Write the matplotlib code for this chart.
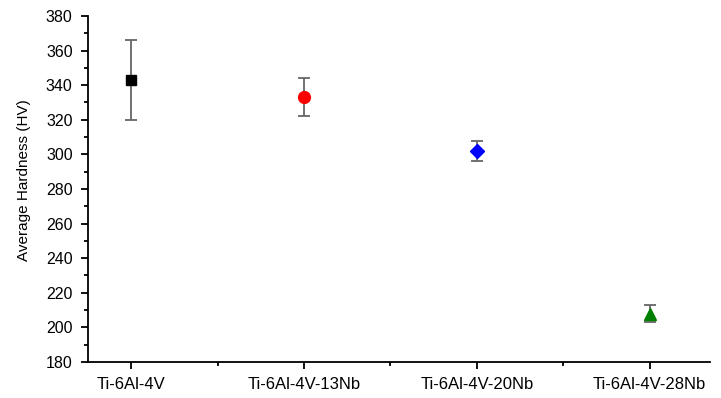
import matplotlib.pyplot as plt
from matplotlib.ticker import MultipleLocator, FixedLocator

plt.rcParams['font.family'] = ['Liberation Sans', 'DejaVu Sans']

alloys = ['Ti-6Al-4V', 'Ti-6Al-4V-13Nb', 'Ti-6Al-4V-20Nb', 'Ti-6Al-4V-28Nb']
hardness = [343, 333, 302, 208]
err_low = [23, 11, 6, 5]
err_high = [23, 11, 6, 5]
markers = ['s', 'o', 'D', '^']
colors = ['black', 'red', 'blue', 'green']
msizes = [7.5, 8.5, 7.5, 8.5]

fig = plt.figure(figsize=(7.21, 3.98), dpi=100)
ax = fig.add_axes([0.122, 0.0905, 0.863, 0.8695])

for i in range(len(alloys)):
    line, caps, bars = ax.errorbar(i, hardness[i], yerr=[[err_low[i]], [err_high[i]]],
                                   fmt=markers[i], color=colors[i], ms=msizes[i],
                                   ecolor='#666666', elinewidth=1.3, capsize=4,
                                   capthick=1.3, zorder=3)
    for c in caps:
        c.set_color('#222222')

ax.set_xlim(-0.25, 3.35)
ax.set_ylim(180, 380)
ax.set_xticks(range(len(alloys)))
ax.set_xticklabels(alloys, fontsize=12)
ax.xaxis.set_minor_locator(FixedLocator([0.5, 1.5, 2.5]))
ax.yaxis.set_major_locator(MultipleLocator(20))
ax.yaxis.set_minor_locator(MultipleLocator(10))
ax.tick_params(axis='y', labelsize=11.5, pad=6)
ax.tick_params(axis='x', pad=6)
ax.tick_params(which='major', direction='out', length=5, width=1.3)
ax.tick_params(which='minor', direction='out', length=3, width=1.3)
ax.spines['top'].set_visible(False)
ax.spines['right'].set_visible(False)
ax.spines['left'].set_linewidth(1.3)
ax.spines['bottom'].set_linewidth(1.3)
ax.set_ylabel('Average Hardness (HV)', fontsize=11)
ax.yaxis.set_label_coords(-0.092, 0.526)

fig.savefig('out.png', dpi=100)
